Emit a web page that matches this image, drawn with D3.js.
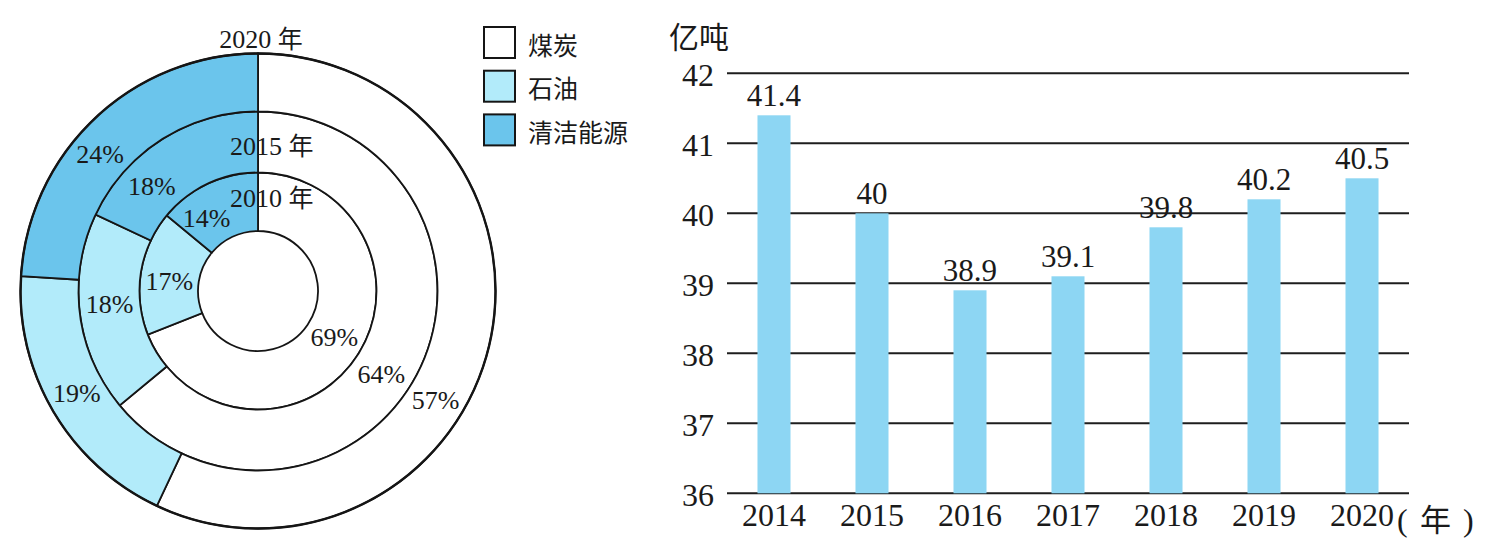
<!DOCTYPE html>
<html>
<head>
<meta charset="utf-8">
<script src="https://cdn.jsdelivr.net/npm/d3@7"></script>
<style>
  body { margin: 0; background: #fff; }
  text { fill: #1a1a1a; }
</style>
</head>
<body>
<div class="chart"></div>
<script>
// 能源结构 (环形图)
const energyTypes = ['煤炭', '石油', '清洁能源']
const ringYears = ['2010 年', '2015 年', '2020 年']
const share2010 = [69, 17, 14]
const share2015 = [64, 18, 18]
const share2020 = [57, 19, 24]

// 煤炭产量 (柱状图)
const barYears = ['2014', '2015', '2016', '2017', '2018', '2019', '2020']
const coalOutput = [41.4, 40, 38.9, 39.1, 39.8, 40.2, 40.5]
const yTicks = [36, 37, 38, 39, 40, 41, 42]

const W = 1490, H = 544
const colors = ['#ffffff', '#b2ebfa', '#6bc5ec']
const stroke = '#151515'
const serif = '"Liberation Serif", "Times New Roman", serif'
const cjk = '"Noto Sans CJK SC", sans-serif'

const svg = d3.select('.chart')
  .append('svg')
  .attr('width', W)
  .attr('height', H)

// ---------- donut ----------
const center = { x: 258, y: 291 }
const radii = [60, 118.5, 179.5, 237.5]
// label angle nudge (deg) per ring: coal, oil, clean
const labelNudge = [[-3, -3, -10], [9, 2, -13], [19, 1, -6]]

const pie = d3.pie().sort(null).value((d) => d)
const shares = [share2010, share2015, share2020]

const donut = svg.append('g')
  .attr('transform', `translate(${center.x}, ${center.y})`)

shares.forEach((vals, ri) => {
  const arc = d3.arc().innerRadius(radii[ri]).outerRadius(radii[ri + 1])
  const slices = pie(vals)
  donut.append('g')
    .selectAll('path')
    .data(slices)
    .enter()
    .append('path')
    .attr('d', arc)
    .attr('fill', (d, i) => colors[i])
    .attr('stroke', stroke)
    .attr('stroke-width', 1.8)

  const rMid = (radii[ri] + radii[ri + 1]) / 2
  donut.append('g')
    .selectAll('text')
    .data(slices)
    .enter()
    .append('text')
    .attr('font-family', serif)
    .attr('text-anchor', 'middle')
    .attr('dominant-baseline', 'central')
    .attr('font-size', 26)
    .attr('transform', (d, i) => {
      const a = (d.startAngle + d.endAngle) / 2 + labelNudge[ri][i] * Math.PI / 180
      return `translate(${rMid * Math.sin(a)}, ${-rMid * Math.cos(a)})`
    })
    .text((d) => d.data + '%')
})

// outer edge a little heavier
donut.append('circle')
  .attr('r', radii[3])
  .attr('fill', 'none')
  .attr('stroke', stroke)
  .attr('stroke-width', 2.4)

// year captions
const yearPos = [
  { dx: -28, y: -radii[1] + 34, anchor: 'start' },
  { dx: -28, y: -radii[2] + 43.5, anchor: 'start' },
  { dx: 3, y: -radii[3] - 6, anchor: 'middle' },
]
donut.append('g')
  .selectAll('text')
  .data(ringYears)
  .enter()
  .append('text')
  .attr('x', (d, i) => yearPos[i].dx)
  .attr('y', (d, i) => yearPos[i].y)
  .attr('text-anchor', (d, i) => yearPos[i].anchor)
  .attr('font-family', serif)
  .attr('font-size', 26)
  .each(function (d) {
    const parts = d.split(' ')
    const t = d3.select(this)
    t.append('tspan').text(parts[0] + ' ')
    t.append('tspan').attr('font-family', cjk).attr('font-size', 25).text(parts[1])
  })

// legend
const legend = svg.append('g').attr('transform', 'translate(484, 27)')
const item = legend.selectAll('.item')
  .data(energyTypes)
  .enter()
  .append('g')
  .attr('class', 'item')
  .attr('transform', (d, i) => `translate(0, ${i * 43.7})`)

item.append('rect')
  .attr('width', 31)
  .attr('height', 31)
  .attr('fill', (d, i) => colors[i])
  .attr('stroke', stroke)
  .attr('stroke-width', 2)

item.append('text')
  .attr('font-family', cjk)
  .attr('x', 44)
  .attr('y', 16.5)
  .attr('dominant-baseline', 'central')
  .attr('font-size', 25)
  .text((d) => d)

// ---------- bars ----------
const x = d3.scaleBand()
  .domain(barYears)
  .range([727, 1409])
  .paddingInner(0.663)
  .paddingOuter(0.311)

const y = d3.scaleLinear()
  .domain([36, 42])
  .range([493.3, 73.3])

const bars = svg.append('g')

bars.selectAll('.grid')
  .data(yTicks)
  .enter()
  .append('line')
  .attr('class', 'grid')
  .attr('x1', x.range()[0])
  .attr('x2', x.range()[1])
  .attr('y1', (d) => y(d))
  .attr('y2', (d) => y(d))
  .attr('stroke', '#1e1e1e')
  .attr('stroke-width', 2)

bars.selectAll('.tick')
  .data(yTicks)
  .enter()
  .append('text')
  .attr('class', 'tick')
  .attr('font-family', serif)
  .attr('x', 714)
  .attr('y', (d) => y(d) + 2)
  .attr('text-anchor', 'end')
  .attr('dominant-baseline', 'central')
  .attr('font-size', 32)
  .text((d) => d)

bars.selectAll('.bar')
  .data(coalOutput)
  .enter()
  .append('rect')
  .attr('class', 'bar')
  .attr('x', (d, i) => x(barYears[i]))
  .attr('width', x.bandwidth())
  .attr('y', (d) => y(d))
  .attr('height', (d) => y(36) - y(d))
  .attr('fill', '#8dd6f3')

bars.selectAll('.val')
  .data(coalOutput)
  .enter()
  .append('text')
  .attr('class', 'val')
  .attr('font-family', serif)
  .attr('x', (d, i) => x(barYears[i]) + x.bandwidth() / 2)
  .attr('y', (d) => y(d) - 9)
  .attr('text-anchor', 'middle')
  .attr('font-size', 31)
  .text((d) => d)

bars.selectAll('.xlab')
  .data(barYears)
  .enter()
  .append('text')
  .attr('class', 'xlab')
  .attr('font-family', serif)
  .attr('x', (d) => x(d) + x.bandwidth() / 2)
  .attr('y', 526)
  .attr('text-anchor', 'middle')
  .attr('font-size', 32)
  .text((d) => d)

// unit after the last year
const unit = bars.append('text').attr('y', 531).attr('font-family', serif).attr('font-size', 32)
unit.append('tspan').attr('x', 1397).text('(')
unit.append('tspan').attr('x', 1420).attr('font-family', cjk).attr('font-size', 31).text('年')
unit.append('tspan').attr('x', 1463).text(')')

bars.append('text')
  .attr('font-family', cjk)
  .attr('x', 669)
  .attr('y', 35)
  .attr('dominant-baseline', 'central')
  .attr('font-size', 30)
  .text('亿吨')
</script>
</body>
</html>
